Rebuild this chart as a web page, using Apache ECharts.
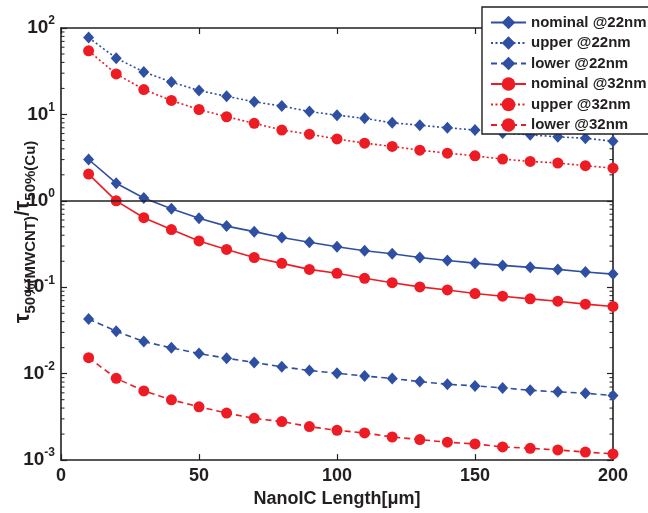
<!DOCTYPE html>
<html>
<head>
<meta charset="utf-8">
<script src="https://cdn.jsdelivr.net/npm/echarts@6/dist/echarts.min.js"></script>
<style>
  html, body { margin: 0; padding: 0; background: #fff; }
  #chart { width: 648px; height: 513px; }
</style>
</head>
<body>
<div id="chart"></div>
<script>
// τ50% ratio vs. NanoIC length, log y axis
const xVals = [10, 20, 30, 40, 50, 60, 70, 80, 90, 100, 110, 120, 130, 140, 150, 160, 170, 180, 190, 200];

const nominal22 = [3.01, 1.60, 1.08, 0.81, 0.63, 0.51, 0.44, 0.376, 0.332, 0.294, 0.264, 0.244, 0.221, 0.204, 0.190, 0.179, 0.170, 0.161, 0.150, 0.142];
const upper22 = [77.4, 44.8, 31.0, 23.7, 18.9, 16.2, 14.0, 12.5, 10.8, 9.8, 9.0, 8.0, 7.5, 7.0, 6.6, 6.1, 5.8, 5.5, 5.3, 4.9];
const lower22 = [0.0429, 0.031, 0.0235, 0.0199, 0.0171, 0.0151, 0.0135, 0.0120, 0.0109, 0.0101, 0.0094, 0.0088, 0.0081, 0.00754, 0.00722, 0.00685, 0.00643, 0.00616, 0.00594, 0.00558];
const nominal32 = [2.04, 1.0, 0.638, 0.465, 0.344, 0.274, 0.221, 0.189, 0.161, 0.145, 0.127, 0.113, 0.101, 0.093, 0.0846, 0.0788, 0.0734, 0.069, 0.0638, 0.060];
const upper32 = [54.4, 29.4, 19.4, 14.5, 11.4, 9.4, 7.9, 6.6, 5.9, 5.2, 4.65, 4.26, 3.86, 3.56, 3.32, 3.04, 2.86, 2.74, 2.55, 2.39];
const lower32 = [0.0153, 0.00884, 0.00632, 0.00498, 0.00414, 0.0035, 0.00304, 0.00279, 0.00244, 0.00221, 0.00206, 0.00185, 0.00173, 0.00161, 0.00154, 0.00142, 0.00137, 0.00131, 0.00124, 0.00118];

const yMin = 1e-3, yMax = 1e2;

const BLUE = '#2f4fa3';
const RED = '#ed1c24';
const INK = '#231f20';
const FONT = "'Liberation Sans', Arial, sans-serif";

const chart = echarts.init(document.getElementById('chart'));

const pairs = ys => xVals.map((x, i) => [x, ys[i]]);

function mkSeries(name, ys, color, symbol, lineType) {
  return {
    name, type: 'line', data: pairs(ys),
    symbol, symbolSize: symbol === 'diamond' ? [11, 12] : 11,
    clip: false,
    lineStyle: { color, width: 1.6, type: lineType },
    itemStyle: { color },
    emphasis: { disabled: true },
  };
}

const series = [
  mkSeries('nominal @22nm', nominal22, BLUE, 'diamond', 'solid'),
  mkSeries('upper @22nm', upper22, BLUE, 'diamond', [2, 2.5]),
  mkSeries('lower @22nm', lower22, BLUE, 'diamond', [6, 4]),
  mkSeries('nominal @32nm', nominal32, RED, 'circle', 'solid'),
  mkSeries('upper @32nm', upper32, RED, 'circle', [2, 2.5]),
  mkSeries('lower @32nm', lower32, RED, 'circle', [6, 4]),
];
// reference line at ratio = 1
series[0].markLine = {
  silent: true, symbol: 'none', animation: false,
  label: { show: false },
  lineStyle: { color: INK, width: 1.6, type: 'solid' },
  data: [{ yAxis: 1 }],
};

const axisLine = { show: true, onZero: false, lineStyle: { color: INK, width: 1.6 } };
const tickIn = { show: true, inside: true, length: 6, lineStyle: { color: INK, width: 1.2 } };

chart.setOption({
  animation: false,
  backgroundColor: '#fff',
  grid: { left: 61, right: 35, top: 28, bottom: 50 },
  legend: {
    orient: 'vertical', left: 482, top: 7,
    padding: [8, 14, 1.5, 8],
    itemWidth: 35, itemHeight: 17, itemGap: 5.5,
    backgroundColor: '#fff', borderColor: INK, borderWidth: 1.4,
    textStyle: { fontFamily: FONT, fontWeight: 'bold', fontSize: 15, color: INK },
    data: series.map(s => s.name),
  },
  xAxis: [{
    type: 'value', min: 0, max: 200, interval: 50,
    axisLine, axisTick: tickIn, splitLine: { show: false },
    axisLabel: { margin: 7, fontFamily: FONT, fontWeight: 'bold', fontSize: 18, color: INK },
    name: 'NanoIC Length[μm]', nameLocation: 'middle', nameGap: 27,
    nameTextStyle: { fontFamily: FONT, fontWeight: 'bold', fontSize: 18, color: INK },
  }, {
    type: 'value', position: 'top', min: 0, max: 200, interval: 50,
    axisLine, axisTick: tickIn, axisLabel: { show: false }, splitLine: { show: false },
  }],
  yAxis: [{
    type: 'log', logBase: 10, min: yMin, max: yMax,
    axisLine, axisTick: tickIn, splitLine: { show: false },
    axisLabel: {
      margin: 6,
      formatter: v => '{b|10}{e|' + Math.round(Math.log10(v)) + '}',
      rich: {
        b: { fontFamily: FONT, fontWeight: 'bold', fontSize: 19, color: INK, lineHeight: 26, verticalAlign: 'middle' },
        e: { fontFamily: FONT, fontWeight: 'bold', fontSize: 12, color: INK, lineHeight: 26, verticalAlign: 'top' },
      },
    },
  }, {
    type: 'log', logBase: 10, min: yMin, max: yMax, position: 'right',
    axisLine, axisTick: tickIn, axisLabel: { show: false }, splitLine: { show: false },
  }],
  series,
});

// log minor ticks (2..9 per decade) on both vertical axes, placed through the axis scale
const gridRect = chart.getModel().getComponent('grid').coordinateSystem.getRect();
const minor = [];
for (let d = -3; d < 2; d++) {
  for (let k = 2; k <= 9; k++) {
    const y = chart.convertToPixel({ yAxisIndex: 0 }, k * Math.pow(10, d));
    [[gridRect.x, gridRect.x + 3.5], [gridRect.x + gridRect.width - 3.5, gridRect.x + gridRect.width]].forEach(([a, b]) => {
      minor.push({ type: 'line', silent: true, shape: { x1: a, y1: y, x2: b, y2: y }, style: { stroke: INK, lineWidth: 1 } });
    });
  }
}

chart.setOption({
  graphic: [
    ...minor,
    {
      type: 'text', x: 23, y: 232, rotation: Math.PI / 2, silent: true, z: 10,
      style: {
        text: '{t|τ}{s|50%(MWCNT)}{n|/}{t|τ}{s|50%(Cu)}',
        align: 'center', verticalAlign: 'middle',
        rich: {
          t: { fontFamily: FONT, fontWeight: 'bold', fontSize: 22, fill: INK, lineHeight: 30, verticalAlign: 'middle' },
          n: { fontFamily: FONT, fontWeight: 'bold', fontSize: 20, fill: INK, lineHeight: 30, verticalAlign: 'middle' },
          s: { fontFamily: FONT, fontWeight: 'bold', fontSize: 15, fill: INK, lineHeight: 30, verticalAlign: 'bottom' },
        },
      },
    },
  ],
});
</script>
</body>
</html>
